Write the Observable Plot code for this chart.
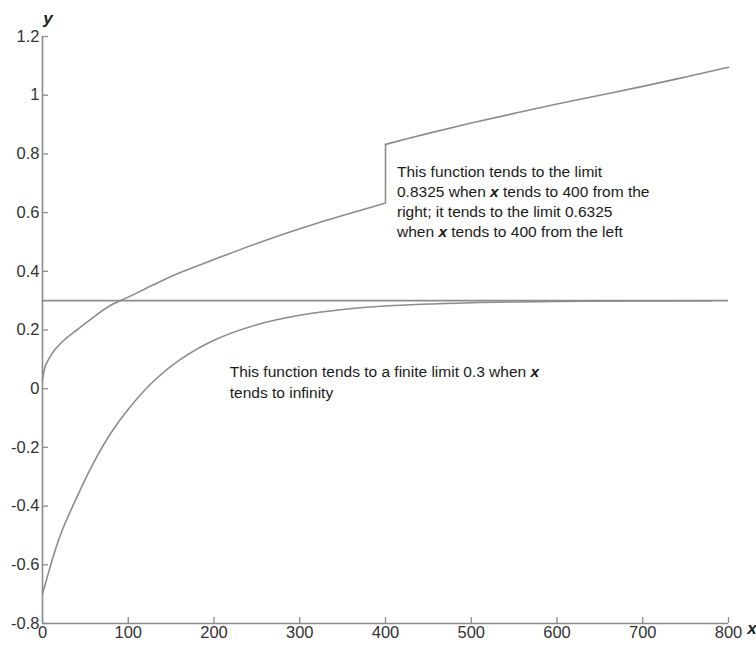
<!DOCTYPE html>
<html>
<head>
<meta charset="utf-8">
<script src="https://cdn.jsdelivr.net/npm/d3@7"></script>
<script src="https://cdn.jsdelivr.net/npm/@observablehq/plot@0.6"></script>
<style>
  body { margin: 0; background: #fff; }
  #chart { position: relative; width: 756px; height: 646px; }
  svg text { font-family: "Liberation Sans", Arial, sans-serif; }
</style>
</head>
<body>
<div id="chart"></div>
<script>
// ---- data ----
const xTicks = [0, 100, 200, 300, 400, 500, 600, 700, 800];
const yTicks = [-0.8, -0.6, -0.4, -0.2, 0, 0.2, 0.4, 0.6, 0.8, 1, 1.2];

// function with a jump at x = 400
const jumpLeftX = [0, 3, 8, 15, 25, 40, 60, 80, 100, 130, 160, 200, 250, 300, 350, 400];
const jumpLeftY = [0.03, 0.075, 0.105, 0.135, 0.165, 0.2, 0.245, 0.285, 0.312, 0.355, 0.395, 0.44, 0.495, 0.545, 0.59, 0.6325];
const jumpRightX = [400, 450, 500, 550, 600, 650, 700, 750, 800];
const jumpRightY = [0.8325, 0.87, 0.905, 0.938, 0.97, 1.0, 1.03, 1.062, 1.095];

// function tending to 0.3 at infinity
const limX = [0, 20, 40, 60, 80, 100, 130, 160, 200, 250, 300, 350, 400, 500, 600, 700, 780];
const limY = [-0.70, -0.505, -0.37, -0.25, -0.15, -0.07, 0.027, 0.098, 0.165, 0.218, 0.25, 0.27, 0.282, 0.293, 0.2975, 0.299, 0.2996];

const limitValue = 0.3;
const limitRange = [0, 800];

const note1 = [
  ["This function tends to the limit"],
  ["0.8325 when ", "x", " tends to 400 from the"],
  ["right; it tends to the limit 0.6325"],
  ["when ", "x", " tends to 400 from the left"]
];
const note2 = [
  ["This function tends to a finite limit 0.3 when ", "x"],
  ["tends to infinity"]
];

const toPts = (xs, ys) => xs.map((x, i) => ({x, y: ys[i]}));
const leftPts = toPts(jumpLeftX, jumpLeftY);
const rightPts = toPts(jumpRightX, jumpRightY);
const limPts = toPts(limX, limY);

const W = 756, H = 646;
const mL = 42, mR = 28, mT = 36, mB = 23;
const lineColor = "#8c8c8c";
const pxPerX = (W - mL - mR) / 800;
const pxPerY = (H - mT - mB) / 2;
const tickLen = 6;

const plot = Plot.plot({
  width: W,
  height: H,
  marginLeft: mL,
  marginRight: mR,
  marginTop: mT,
  marginBottom: mB,
  style: {fontFamily: "Liberation Sans, Arial, sans-serif", fontSize: "16.5px", color: "#333", background: "#fff", overflow: "visible"},
  x: {domain: [0, 800]},
  y: {domain: [-0.8, 1.2]},
  marks: [
    // axis lines
    Plot.ruleX([0], {stroke: lineColor, strokeWidth: 1.6}),
    Plot.ruleY([-0.8], {stroke: lineColor, strokeWidth: 1.6}),
    // inward ticks
    Plot.ruleY(yTicks, {x1: 0, x2: tickLen / pxPerX, stroke: lineColor, strokeWidth: 1.3}),
    Plot.ruleX(xTicks, {y1: -0.8, y2: -0.8 + tickLen / pxPerY, stroke: lineColor, strokeWidth: 1.3}),
    Plot.axisY(yTicks, {tickSize: 0, tickPadding: 3, tickFormat: d => String(d), label: null, fill: "#333", fontSize: 16.5}),
    Plot.axisX(xTicks, {tickSize: 0, tickPadding: 3, tickFormat: d => String(d), label: null, fill: "#333", fontSize: 16.5}),
    // horizontal limit line
    Plot.ruleY([limitValue], {x1: limitRange[0], x2: limitRange[1], stroke: lineColor, strokeWidth: 1.6}),
    // lower curve
    Plot.line(limPts, {x: "x", y: "y", curve: "catmull-rom", stroke: lineColor, strokeWidth: 1.6}),
    // jump function
    Plot.line(leftPts, {x: "x", y: "y", curve: "catmull-rom", stroke: lineColor, strokeWidth: 1.6}),
    Plot.line(rightPts, {x: "x", y: "y", curve: "catmull-rom", stroke: lineColor, strokeWidth: 1.6}),
    Plot.ruleX([jumpLeftX[jumpLeftX.length - 1]], {y1: jumpLeftY[jumpLeftY.length - 1], y2: jumpRightY[0], stroke: lineColor, strokeWidth: 1.6})
  ]
});

document.getElementById("chart").appendChild(plot);

const sx = plot.scale("x"), sy = plot.scale("y");
const svg = d3.select(plot);

function addNote(lines, x0, y0, lineH) {
  const t = svg.append("text")
    .attr("fill", "#1a1a1a")
    .attr("text-anchor", "start")
    .attr("font-size", 15.5)
    .attr("font-family", "Liberation Sans, Arial, sans-serif");
  lines.forEach((parts, i) => {
    const ln = t.append("tspan").attr("x", sx.apply(x0)).attr("y", sy.apply(y0) + i * lineH).attr("dy", "0.35em");
    parts.forEach(p => {
      const s = ln.append("tspan").text(p);
      if (p === "x") s.attr("font-style", "italic").attr("font-weight", "bold");
    });
  });
}
addNote(note1, 414, 0.737, 20);
addNote(note2, 219, 0.055, 20.5);

// axis titles
svg.append("text").text("y")
  .attr("x", sx.apply(0) + 6).attr("y", sy.apply(1.2) - 18)
  .attr("dy", "0.35em").attr("text-anchor", "middle")
  .attr("font-size", 17).attr("font-style", "italic").attr("font-weight", "bold").attr("fill", "#222");
svg.append("text").text("x")
  .attr("x", sx.apply(800) + 24).attr("y", sy.apply(-0.8) + 5)
  .attr("dy", "0.35em").attr("text-anchor", "middle")
  .attr("font-size", 17).attr("font-style", "italic").attr("font-weight", "bold").attr("fill", "#222");
</script>
</body>
</html>
